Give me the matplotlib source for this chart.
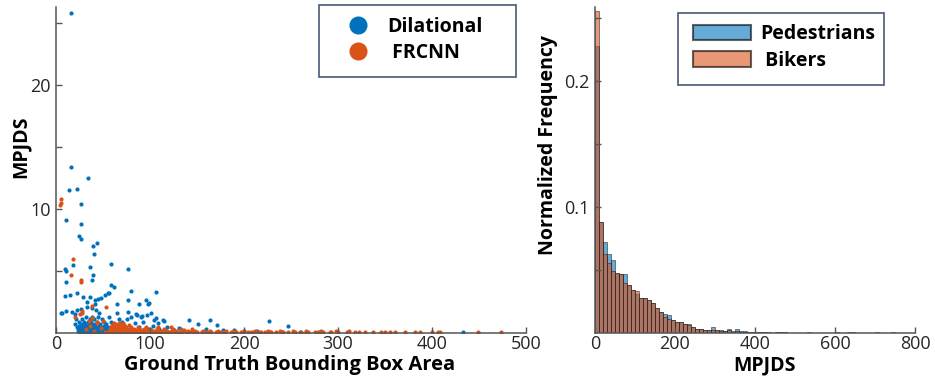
import numpy as np
import matplotlib
matplotlib.use("Agg")
import matplotlib.pyplot as plt
from matplotlib.lines import Line2D
from matplotlib.patches import Rectangle, Patch

plt.rcParams['font.family'] = ['Open Sans', 'DejaVu Sans']

# ---- left panel: scatter of MPJDS vs ground truth box area ----
dil_x = [16, 16, 34, 14, 22, 27, 11, 27, 24, 27, 39, 44, 40, 58, 77, 18, 10, 11, 36, 39,
         38, 11, 59, 62, 80, 106, 55, 52, 22, 10, 15, 29, 33, 36, 41, 45, 48, 56, 77, 96,
         98, 65, 88, 41, 99, 6, 5, 11, 17, 20, 22, 27, 33, 38, 43, 46, 65, 77, 85, 86,
         92, 97, 101, 104, 106, 109, 114, 115, 141, 151, 164, 171, 227, 247, 178, 189, 214, 433,
         # dense cluster
         24, 27, 30, 33, 36, 39, 42, 45, 48, 51, 54, 57,
         25, 28, 31, 34, 37, 40, 43, 46, 49, 52, 55, 58,
         23, 26, 29, 32, 35, 38, 41, 44, 47, 50, 53, 56, 60,
         24, 27, 30, 33, 36, 39, 42, 45, 48, 51, 54,
         25, 28, 31, 34, 37, 40, 43, 46, 49, 52, 58,
         23, 27, 31, 35, 38, 41, 44, 48, 52,
         22, 26, 30, 33, 36, 39, 42, 45, 50, 55,
         24, 28, 32, 37, 40, 46, 51, 61,
         20, 27, 31, 35, 38, 41, 47, 53, 63,
         24, 30, 34, 37, 44, 51, 58, 70,
         21, 28, 36, 40, 49, 67, 75,
         32, 38, 45, 56, 80, 90,
         66, 72, 79, 84, 88, 93, 98, 103, 110, 118, 125, 131, 145, 160, 200, 240, 260, 280]
dil_y = [25.8, 13.4, 12.5, 11.5, 11.6, 10.4, 9.1, 8.8, 7.8, 7.6, 7.0, 7.3, 6.4, 5.6, 5.2, 5.5, 5.2, 5.0, 5.3, 4.7,
         4.3, 4.1, 3.9, 3.7, 3.4, 3.3, 3.25, 3.1, 3.2, 3.0, 3.1, 2.9, 2.5, 2.9, 2.7, 2.75, 2.8, 3.2, 2.7, 2.7,
         2.3, 2.3, 2.3, 2.3, 2.4, 1.6, 1.65, 1.8, 1.7, 1.5, 1.85, 1.9, 2.1, 2.0, 1.85, 1.6, 1.6, 1.7, 1.5, 1.45,
         1.4, 1.45, 1.6, 1.05, 1.2, 0.8, 1.05, 1.0, 1.05, 0.73, 1.05, 0.62, 0.97, 0.56, 0.25, 0.25, 0.2, 0.05,
         0.05, 0.05, 0.05, 0.05, 0.05, 0.05, 0.05, 0.05, 0.05, 0.05, 0.05, 0.05,
         0.12, 0.12, 0.12, 0.12, 0.12, 0.12, 0.12, 0.12, 0.12, 0.12, 0.12, 0.12,
         0.2, 0.2, 0.2, 0.2, 0.2, 0.2, 0.2, 0.2, 0.2, 0.2, 0.2, 0.2, 0.2,
         0.28, 0.28, 0.28, 0.28, 0.28, 0.28, 0.28, 0.28, 0.28, 0.28, 0.28,
         0.35, 0.35, 0.35, 0.35, 0.35, 0.35, 0.35, 0.35, 0.35, 0.35, 0.35,
         0.43, 0.43, 0.43, 0.43, 0.43, 0.43, 0.43, 0.43, 0.43,
         0.5, 0.5, 0.5, 0.5, 0.5, 0.5, 0.5, 0.5, 0.5, 0.5,
         0.6, 0.6, 0.6, 0.6, 0.6, 0.6, 0.6, 0.6,
         0.7, 0.7, 0.7, 0.7, 0.7, 0.7, 0.7, 0.7, 0.7,
         0.9, 0.9, 0.9, 0.9, 0.9, 0.9, 0.9, 0.9,
         1.1, 1.1, 1.1, 1.1, 1.1, 1.1, 1.1,
         1.3, 1.3, 1.3, 1.3, 1.3, 1.3,
         0.4, 0.6, 0.3, 0.8, 0.5, 0.9, 0.35, 0.6, 0.3, 0.5, 0.2, 0.4, 0.15, 0.3, 0.15, 0.1, 0.1, 0.05]

frc_x = [5, 5, 4.5, 18, 16, 26.5, 27, 53, 28, 25, 38, 28, 20, 35, 44,
         32, 36, 40, 44, 48, 50, 52, 38,
         55, 58, 61, 64, 67, 70, 73, 76, 79, 82, 85, 88, 91, 94, 97, 100, 103, 106, 109, 112,
         115, 118, 121, 124, 127, 130, 134, 138, 142, 146, 150, 155, 160, 165, 170, 175, 180,
         186, 192, 198, 204, 210, 216, 222, 228, 234, 240, 247, 254, 261, 268, 276, 284, 292, 300, 310,
         57, 60, 63, 66, 69, 72, 75, 78, 81, 84, 87, 90, 94, 98, 102, 106, 111, 116, 121, 127, 133,
         140, 147, 155, 163, 171, 179, 188, 197, 207, 218, 229, 241, 253, 266, 279, 293,
         56, 60, 63, 66, 69, 72, 75, 78, 81, 84, 88, 92, 96, 100, 104, 108, 113, 118, 123, 128,
         134, 140, 148, 156, 164, 172, 181, 190, 200, 212, 225, 238, 252, 266, 282, 298, 312,
         58, 62, 65, 68, 71, 74, 77, 81, 85, 90, 95, 101, 108, 116, 125, 136,
         57, 61, 65, 68, 71, 74, 78, 83, 88, 94, 100, 107, 115, 124, 133, 145,
         58, 62, 66, 70, 74, 80, 87, 96, 108, 122,
         60, 64, 68, 72, 78,
         62, 67, 71,
         318, 322, 329, 337, 346, 350, 355, 361, 371, 382, 387, 400, 406, 408, 449, 473]
frc_y = [10.8, 10.5, 10.3, 6.0, 4.7, 4.3, 4.1, 2.1, 1.6, 1.5, 2.2, 1.75, 1.3, 1.0, 0.9,
         0.3, 0.6, 0.2, 0.8, 0.4, 1.0, 0.1, 1.2,
         0.05, 0.05, 0.05, 0.05, 0.05, 0.05, 0.05, 0.05, 0.05, 0.05, 0.05, 0.05, 0.05, 0.05, 0.05, 0.05, 0.05, 0.05, 0.05, 0.05,
         0.05, 0.05, 0.05, 0.05, 0.05, 0.05, 0.05, 0.05, 0.05, 0.05, 0.05, 0.05, 0.05, 0.05, 0.05, 0.05, 0.05,
         0.05, 0.05, 0.05, 0.05, 0.05, 0.05, 0.05, 0.05, 0.05, 0.05, 0.05, 0.05, 0.05, 0.05, 0.05, 0.05, 0.05, 0.05, 0.05,
         0.12, 0.12, 0.12, 0.12, 0.12, 0.12, 0.12, 0.12, 0.12, 0.12, 0.12, 0.12, 0.12, 0.12, 0.12, 0.12, 0.12, 0.12, 0.12, 0.12, 0.12,
         0.12, 0.12, 0.12, 0.12, 0.12, 0.12, 0.12, 0.12, 0.12, 0.12, 0.12, 0.12, 0.12, 0.12, 0.12, 0.12,
         0.2, 0.2, 0.2, 0.2, 0.2, 0.2, 0.2, 0.2, 0.2, 0.2, 0.2, 0.2, 0.2, 0.2, 0.2, 0.2, 0.2, 0.2, 0.2, 0.2,
         0.2, 0.2, 0.2, 0.2, 0.2, 0.2, 0.2, 0.2, 0.2, 0.2, 0.2, 0.2, 0.2, 0.2, 0.2, 0.2, 0.2,
         0.28, 0.28, 0.28, 0.28, 0.28, 0.28, 0.28, 0.28, 0.28, 0.28, 0.28, 0.28, 0.28, 0.28, 0.28, 0.28,
         0.35, 0.35, 0.35, 0.35, 0.35, 0.35, 0.35, 0.35, 0.35, 0.35, 0.35, 0.35, 0.35, 0.35, 0.35, 0.35,
         0.5, 0.5, 0.5, 0.5, 0.5, 0.5, 0.5, 0.5, 0.5, 0.5,
         0.65, 0.65, 0.65, 0.65, 0.65,
         0.8, 0.8, 0.8,
         0.1, 0.05, 0.1, 0.05, 0.1, 0.05, 0.1, 0.05, 0.1, 0.1, 0.05, 0.1, 0.08, 0.05, 0.1, 0.1]

# ---- right panel: normalized histograms, bins of width 10 from 0 to 800 ----
bin_width = 10
ped_freq = [0.228, 0.088, 0.072, 0.063, 0.058, 0.048, 0.047, 0.047, 0.038, 0.034,
            0.031, 0.028, 0.028, 0.026, 0.024, 0.020, 0.017, 0.015, 0.0145, 0.0106,
            0.0087, 0.0087, 0.0069, 0.0074, 0.0048, 0.0034, 0.0034, 0.0026, 0.0022, 0.0048,
            0.0025, 0.002, 0.0015, 0.003, 0.0012, 0.0028, 0.0015, 0.0012, 0.0008, 0.0006,
            0.0006, 0.0005, 0.0008, 0.0004, 0.0003, 0.0006, 0.001, 0.0009, 0.0003, 0.0002,
            0.0002, 0.0002, 0.0001, 0.0004, 0.0002, 0.0001, 0.0002, 0.0001, 0.0001, 0.0002,
            0.0004, 0.0001, 0.0, 0.0006, 0.0005, 0.0, 0.0, 0.0001, 0.0, 0.0001,
            0.0005, 0.0, 0.0, 0.0001, 0.0006, 0.0, 0.0, 0.0, 0.0, 0.0]
bike_freq = [0.256, 0.088, 0.063, 0.056, 0.049, 0.048, 0.047, 0.040, 0.038, 0.034,
             0.033, 0.028, 0.028, 0.026, 0.024, 0.020, 0.017, 0.013, 0.011, 0.0106,
             0.0087, 0.0087, 0.0069, 0.006, 0.0048, 0.0034, 0.0034, 0.0026, 0.002, 0.002,
             0.002, 0.0015, 0.0012, 0.002, 0.001, 0.0018, 0.001, 0.0008, 0.0006, 0.0005,
             0.0004, 0.0004, 0.0006, 0.0003, 0.0002, 0.0004, 0.0008, 0.0006, 0.0002, 0.0001,
             0.0001, 0.0001, 0.0001, 0.0002, 0.0001, 0.0, 0.0001, 0.0, 0.0001, 0.0001,
             0.0002, 0.0, 0.0, 0.0003, 0.0003, 0.0, 0.0, 0.0, 0.0, 0.0,
             0.0003, 0.0, 0.0, 0.0, 0.0003, 0.0, 0.0, 0.0, 0.0, 0.0]

blue = '#0072BD'
orange = '#D95319'
spine_col = '#555555'
text_col = '#262626'

fig = plt.figure(figsize=(9.35, 3.76), dpi=100)
W, H = 935.0, 376.0


def style_axes(ax):
    for side in ['top', 'right']:
        ax.spines[side].set_visible(False)
    for side in ['left', 'bottom']:
        ax.spines[side].set_color(spine_col)
        ax.spines[side].set_linewidth(1.1)
    ax.tick_params(direction='in', length=4, width=1, color=spine_col,
                   labelsize=13, labelcolor=text_col, pad=1.5)
    ax.tick_params(axis='y', pad=4)


# left axes
ax1 = fig.add_axes([56 / W, 1 - 333 / H, 470 / W, 326 / H])
ax1.scatter(dil_x, dil_y, s=9, color=blue, linewidths=0)
ax1.scatter(frc_x, frc_y, s=9, color=orange, linewidths=0)
ax1.set_xlim(0, 500)
ax1.set_ylim(0, 26.3)
ax1.set_xticks([0, 100, 200, 300, 400, 500])
ax1.set_yticks([5, 10, 15, 20, 25])
ax1.set_yticklabels(['', '10', '', '20', ''])
style_axes(ax1)
ax1.set_xlabel('Ground Truth Bounding Box Area', fontsize=14.5, fontweight='bold', color='black')
ax1.xaxis.set_label_coords(0.496, -0.068)
ax1.set_ylabel('MPJDS', fontsize=14, fontweight='bold', color='black', va='center')
ax1.yaxis.set_label_coords(-0.075, 0.571)

fig.add_artist(Rectangle((319 / W, 1 - 77 / H), 197 / W, 72 / H, transform=fig.transFigure,
                         fill=False, edgecolor='#4a5878', linewidth=1.2))
h1 = [Line2D([], [], ls='', marker='o', markersize=12, color=blue),
      Line2D([], [], ls='', marker='o', markersize=12, color=orange)]
fig.legend(h1, ['Dilational', ' FRCNN'], loc='upper left', bbox_to_anchor=(348 / W, 1 - 17 / H),
           frameon=False, borderpad=0, borderaxespad=0, handlelength=1.0, handletextpad=1.0,
           labelspacing=0.3, prop={'weight': 'bold', 'size': 14})

# right axes
ax2 = fig.add_axes([595 / W, 1 - 333 / H, 320 / W, 326 / H])
edges = np.arange(len(ped_freq)) * bin_width
ax2.bar(edges, ped_freq, width=bin_width, align='edge', color=blue, alpha=0.6,
        edgecolor='#1a1a1a', linewidth=0.6)
ax2.bar(edges, bike_freq, width=bin_width, align='edge', color=orange, alpha=0.6,
        edgecolor='#1a1a1a', linewidth=0.6)
ax2.set_xlim(0, 800)
ax2.set_ylim(0, 0.259)
ax2.set_xticks([0, 200, 400, 600, 800])
ax2.set_yticks([0.05, 0.1, 0.15, 0.2, 0.25])
ax2.set_yticklabels(['', '0.1', '', '0.2', ''])
style_axes(ax2)
ax2.set_xlabel('MPJDS', fontsize=14, fontweight='bold', color='black')
ax2.xaxis.set_label_coords(0.531, -0.068)
ax2.set_ylabel('Normalized Frequency', fontsize=14, fontweight='bold', color='black', va='center')
ax2.yaxis.set_label_coords(-0.147, 0.577)

fig.add_artist(Rectangle((678 / W, 1 - 85 / H), 206 / W, 72 / H, transform=fig.transFigure,
                         fill=False, edgecolor='#4a5878', linewidth=1.2))
h2 = [Patch(facecolor=blue, alpha=0.6, edgecolor='black', linewidth=1.5),
      Patch(facecolor=orange, alpha=0.6, edgecolor='black', linewidth=1.5)]
fig.legend(h2, ['Pedestrians', ' Bikers'], loc='upper left', bbox_to_anchor=(693 / W, 1 - 24 / H),
           frameon=False, borderpad=0, borderaxespad=0, handlelength=3.0, handleheight=0.85,
           handletextpad=0.45, labelspacing=0.35, prop={'weight': 'bold', 'size': 14})

fig.savefig('out.png', dpi=100)
